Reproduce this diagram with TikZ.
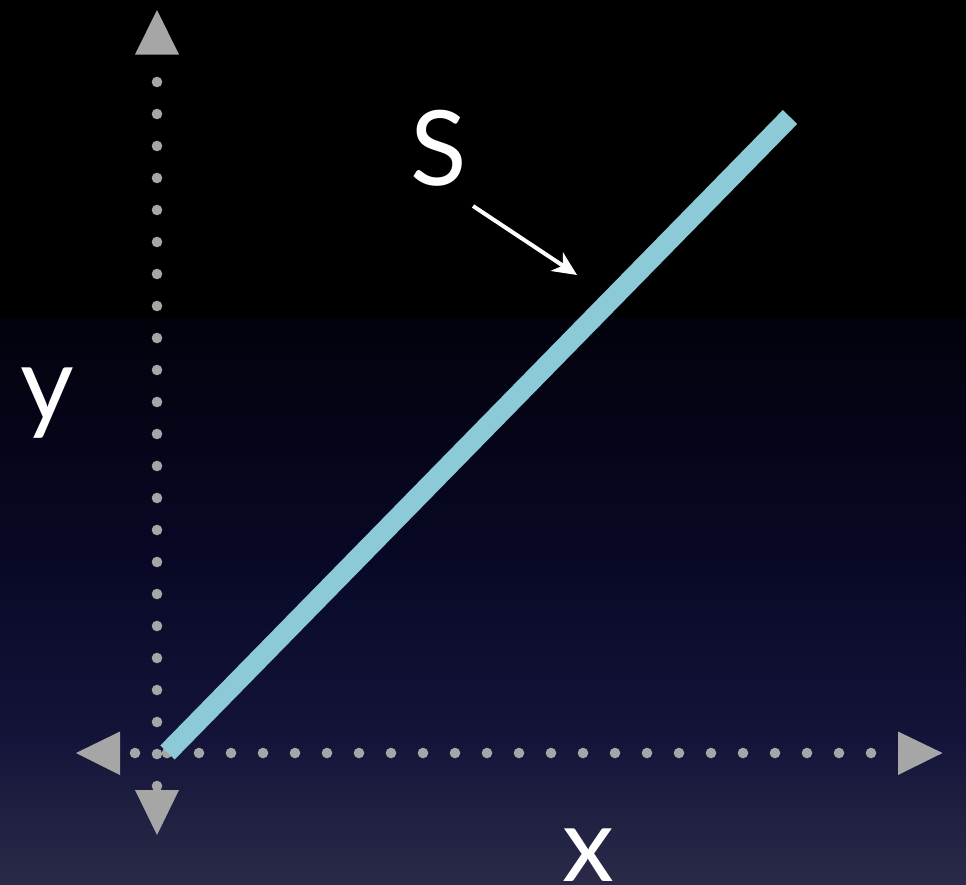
\documentclass[tikz,border=0pt]{standalone}
\usepackage{fontspec}
\setmainfont{Lato}
\usetikzlibrary{arrows.meta}
\definecolor{axisgray}{HTML}{A6A6A6}
\definecolor{lineblue}{HTML}{8DCAD8}
\definecolor{bgA}{HTML}{02020C}
\definecolor{bgB}{HTML}{080826}
\definecolor{bgC}{HTML}{14143A}
\definecolor{bgD}{HTML}{2A2A48}
\tikzset{
  axdot/.style={fill=axisgray, draw=none},
  axhead/.style={fill=axisgray, draw=none},
  lbl/.style={text=white, font=\fontsize{104}{110}\selectfont, inner sep=0pt, anchor=base},
}
\begin{document}
\begin{tikzpicture}[x=1pt,y=-1pt]
\useasboundingbox (0,0) rectangle (966,884);
% background
\fill[black] (0,0) rectangle (966,320);
\shade[top color=bgA, bottom color=bgB, draw=none] (0,318) rectangle (966,560);
\shade[top color=bgB, bottom color=bgC, draw=none] (0,559) rectangle (966,740);
\shade[top color=bgC, bottom color=bgD, draw=none] (0,739) rectangle (966,884);
% dotted axes
\foreach \i in {0,...,23} {
  \fill[axdot] (135+32*\i,753) circle (5.3);
}
\foreach \i in {0,...,22} {
  \fill[axdot] (157,786-32*\i) circle (5.3);
}
% arrow heads
\fill[axhead] (76,753) -- (120,731.5) -- (120,775) -- cycle;
\fill[axhead] (942.5,753) -- (898,731.5) -- (898,775) -- cycle;
\fill[axhead] (157,10) -- (135,54.5) -- (179,54.5) -- cycle;
\fill[axhead] (157,835) -- (135,790) -- (179,790) -- cycle;
% line S
\coordinate (s0) at (167.5,752.5);
\coordinate (s1) at (790,117);
\draw[lineblue, line width=20pt, line cap=butt] (s0) -- (s1);
% labels
\node[lbl] (S) at (439,185) {S};
\node[lbl] (y) at (47,420) {y};
\node[lbl] (x) at (588,881) {x};
% arrow to line
\coordinate (a0) at (473,206);
\coordinate (a1) at (577,275);
\draw[white, line width=4pt, -{Stealth[length=24pt,width=22pt,inset=7pt]}] (a0) -- (a1);
\end{tikzpicture}
\end{document}
